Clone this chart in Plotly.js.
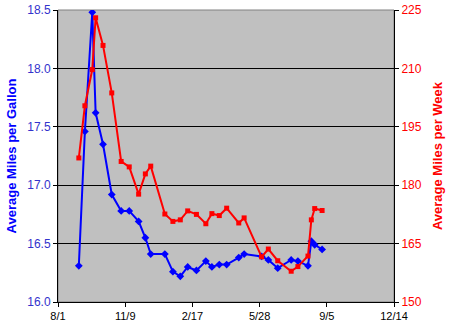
<!DOCTYPE html>
<html>
<head>
<meta charset="utf-8">
<script src="https://cdn.plot.ly/plotly-3.0.1.min.js"></script>
<style>html,body{margin:0;padding:0;background:#fff;}#chart{width:450px;height:327px;}</style>
</head>
<body>
<div id="chart"></div>
<script>
const dates = ['2005-09-01','2005-09-10','2005-09-21','2005-09-26','2005-10-07','2005-10-20','2005-11-03','2005-11-15','2005-11-29','2005-12-09','2005-12-17','2006-01-07','2006-01-19','2006-01-30','2006-02-10','2006-02-23','2006-03-09','2006-03-18','2006-03-29','2006-04-09','2006-04-27','2006-05-05','2006-05-31','2006-06-10','2006-06-24','2006-07-14','2006-07-24','2006-08-08','2006-08-13','2006-08-18','2006-08-29'];
const mpg = [16.31,17.46,18.48,17.62,17.35,16.92,16.78,16.78,16.69,16.55,16.41,16.41,16.26,16.22,16.30,16.27,16.35,16.30,16.32,16.32,16.38,16.41,16.39,16.36,16.29,16.36,16.35,16.31,16.52,16.49,16.45];
const milesPerWeek = [187.0,200.4,209.7,223.0,215.9,203.7,186.1,184.7,177.7,182.9,184.9,172.6,170.7,171.1,173.4,172.5,170.1,172.7,172.2,174.1,170.3,171.6,161.6,163.6,160.6,157.9,159.1,161.8,171.1,174.0,173.5];
const xRange = ['2005-08-01','2006-12-14'];
const leftTitle = 'Average Miles per Gallon';
const rightTitle = 'Average Miles per Week';

const FONT = 'Liberation Sans, Arial, sans-serif';
const traces = [
  {x: dates, y: mpg, type: 'scatter', mode: 'lines+markers', yaxis: 'y',
   line: {color: '#0000ff', width: 2}, marker: {symbol: 'diamond', size: 6, color: '#0000ff'}},
  {x: dates, y: milesPerWeek, type: 'scatter', mode: 'lines+markers', yaxis: 'y2',
   line: {color: '#ff0000', width: 2}, marker: {symbol: 'square', size: 5, color: '#ff0000'}}
];
const layout = {
  width: 450, height: 327,
  margin: {l: 58, r: 56, t: 10, b: 25},
  paper_bgcolor: '#ffffff', plot_bgcolor: '#c0c0c0',
  showlegend: false,
  font: {family: FONT, size: 12, color: '#000'},
  xaxis: {type: 'date', range: xRange, tick0: xRange[0], dtick: 100*86400000,
    tickformat: '%-m/%-d', showgrid: false, zeroline: false,
    showline: true, linecolor: '#000', linewidth: 1, mirror: false,
    ticks: 'outside', ticklen: 4, tickcolor: '#000',
    tickfont: {family: FONT, size: 11, color: '#000'}},
  yaxis: {range: [16, 18.5], dtick: 0.5, tickformat: '.1f',
    showgrid: true, gridcolor: '#000', gridwidth: 1, zeroline: false,
    showline: true, linecolor: '#000', linewidth: 1,
    ticks: 'outside', ticklen: 4, tickcolor: '#000',
    tickfont: {family: FONT, size: 12, color: '#3333cc'},
    title: {text: leftTitle, font: {family: FONT, size: 13, color: '#0000ff', weight: 'bold'}, standoff: 7}},
  yaxis2: {range: [150, 225], dtick: 15, overlaying: 'y', side: 'right',
    showgrid: false, zeroline: false,
    showline: true, linecolor: '#000', linewidth: 1,
    ticks: 'outside', ticklen: 4, tickcolor: '#000',
    tickfont: {family: FONT, size: 12, color: '#ff0000'},
    title: {text: rightTitle, font: {family: FONT, size: 13, color: '#ff0000', weight: 'bold'}, standoff: 12}},
  shapes: [{type: 'rect', xref: 'paper', yref: 'paper', x0: 0, x1: 1, y0: 0, y1: 1,
    line: {color: '#808080', width: 1}, fillcolor: 'rgba(0,0,0,0)', layer: 'below'}]
};
Plotly.newPlot('chart', traces, layout, {displayModeBar: false, staticPlot: true});
</script>
</body>
</html>
